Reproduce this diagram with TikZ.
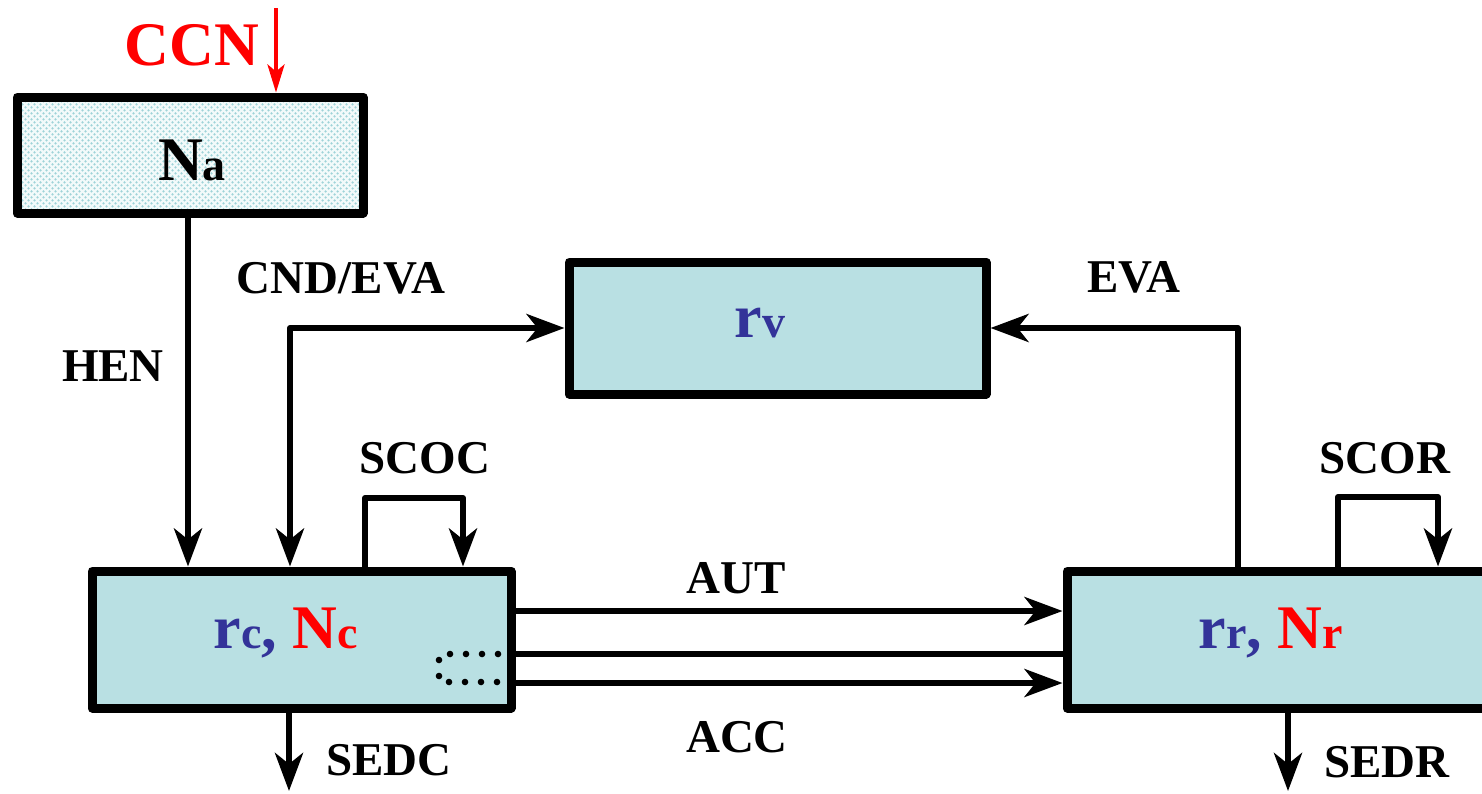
\documentclass[tikz,border=0pt]{standalone}
\usepackage{fontspec}
\setmainfont{Liberation Serif}
\usetikzlibrary{arrows.meta,patterns,calc}
\definecolor{boxfill}{HTML}{B9E0E3}
\definecolor{nabg}{HTML}{F2FAFA}
\definecolor{dotcol}{HTML}{9FD3D8}
\definecolor{rblue}{HTML}{333399}
\definecolor{rred}{HTML}{FF0000}
\newcommand{\mainsz}{\fontsize{62}{70}\selectfont}
\newcommand{\subsz}{\fontsize{46}{50}\selectfont}
\pgfdeclarepatternformonly{nadots}{\pgfqpoint{-1pt}{-1pt}}{\pgfqpoint{7pt}{7pt}}{\pgfqpoint{6pt}{6pt}}{%
  \pgfpathcircle{\pgfqpoint{1.5pt}{1.5pt}}{1.25pt}%
  \pgfpathcircle{\pgfqpoint{4.5pt}{4.5pt}}{1.25pt}%
  \pgfusepath{fill}}
\begin{document}
\begin{tikzpicture}[x=1pt,y=-1pt,line join=round,
  box/.style={draw=black,line width=9pt,fill=boxfill,rectangle,inner sep=0pt},
  conn/.style={line width=6pt,-{Stealth[length=38pt,width=28pt,inset=11pt]}},
  conntwo/.style={line width=6pt,{Stealth[length=38pt,width=28pt,inset=11pt]}-{Stealth[length=38pt,width=28pt,inset=11pt]}},
  plainline/.style={line width=6pt},
  redconn/.style={line width=4pt,draw=rred,-{Stealth[length=28pt,width=17pt,inset=7pt]}},
  maintxt/.style={font=\bfseries\mainsz,anchor=base,inner sep=0pt},
  lbl/.style={font=\bfseries\fontsize{47}{50}\selectfont,anchor=base,inner sep=0pt},
  dotmark/.style={fill=black}]
\useasboundingbox (0,0) rectangle (1482,793);
\fill[white] (0,0) rectangle (1482,793);

% boxes
\node[draw=black,line width=9pt,rectangle,inner sep=0pt,minimum width=346pt,minimum height=116pt,
      preaction={fill=nabg},pattern=nadots,pattern color=dotcol] (na) at (190,155) {};
\node[box,minimum width=417pt,minimum height=132pt] (rv) at (777.5,328) {};
\node[box,minimum width=419pt,minimum height=137pt] (rc) at (301.5,639.5) {};
\node[box,minimum width=419pt,minimum height=137pt] (rr) at (1276.5,639.5) {};

% box texts
\node[maintxt,text=black] (natext) at (192,180) {N{\subsz a}};
\node[maintxt,text=rblue] (rvtext) at (760,337) {r{\subsz v}};
\node[maintxt] (rctext) at (286,648) {\textcolor{rblue}{r{\subsz c},} \textcolor{rred}{N{\subsz c}}};
\node[maintxt] (rrtext) at (1271,648) {\textcolor{rblue}{r{\subsz r},} \textcolor{rred}{N{\subsz r}}};

% CCN
\node[maintxt,text=rred] (ccn) at (192,65) {CCN};
\coordinate (ccntop) at (276,8);
\draw[redconn] (ccntop) -- (na.north -| ccntop);

% HEN
\coordinate (henx) at (188,0);
\draw[conn] (na.south -| henx) -- (rc.north -| henx);
\node[lbl] (hen) at (113,381) {HEN};

% CND/EVA
\coordinate (cndx) at (290,0);
\draw[conntwo] (rc.north -| cndx) |- (rv.west);
\node[lbl] (cnd) at (341,293) {CND/EVA};

% EVA
\coordinate (evax) at (1238,0);
\draw[conn] (rr.north -| evax) |- (rv.east);
\node[lbl] (eva) at (1134,292) {EVA};

% SCOC loop
\coordinate (scl) at (365,498);
\coordinate (scr) at (463,498);
\draw[conn] (rc.north -| scl) -- (scl) -- (scr) -- (rc.north -| scr);
\node[lbl] (scoc) at (425,473) {SCOC};

% SCOR loop
\coordinate (srl) at (1338,497);
\coordinate (srr) at (1438,497);
\draw[conn] (rr.north -| srl) -- (srl) -- (srr) -- (rr.north -| srr);
\node[lbl] (scor) at (1385,473) {SCOR};

% AUT / middle / ACC
\coordinate (auty) at (0,611);
\coordinate (midy) at (0,654);
\coordinate (accy) at (0,683);
\draw[conn] (rc.east |- auty) -- (rr.west |- auty);
\draw[plainline] (rc.east |- midy) -- (rr.west |- midy);
\draw[conn] (rc.east |- accy) -- (rr.west |- accy);
\node[lbl] (aut) at (736,593) {AUT};
\node[lbl] (acc) at (737,752) {ACC};

% dotted loop inside rc
\foreach \px/\py in {450/654,466/654,482/654,498/654,439/660,439/676,449/682,465/682,481/682,497/682}
  \fill[dotmark] (\px,\py) circle[radius=3.3pt];

% SEDC / SEDR
\coordinate (sedcend) at (289,791);
\draw[conn] (rc.south -| sedcend) -- (sedcend);
\node[lbl] (sedc) at (389,775) {SEDC};
\coordinate (sedrend) at (1288,791);
\draw[conn] (rr.south -| sedrend) -- (sedrend);
\node[lbl] (sedr) at (1387,777) {SEDR};
\end{tikzpicture}
\end{document}
